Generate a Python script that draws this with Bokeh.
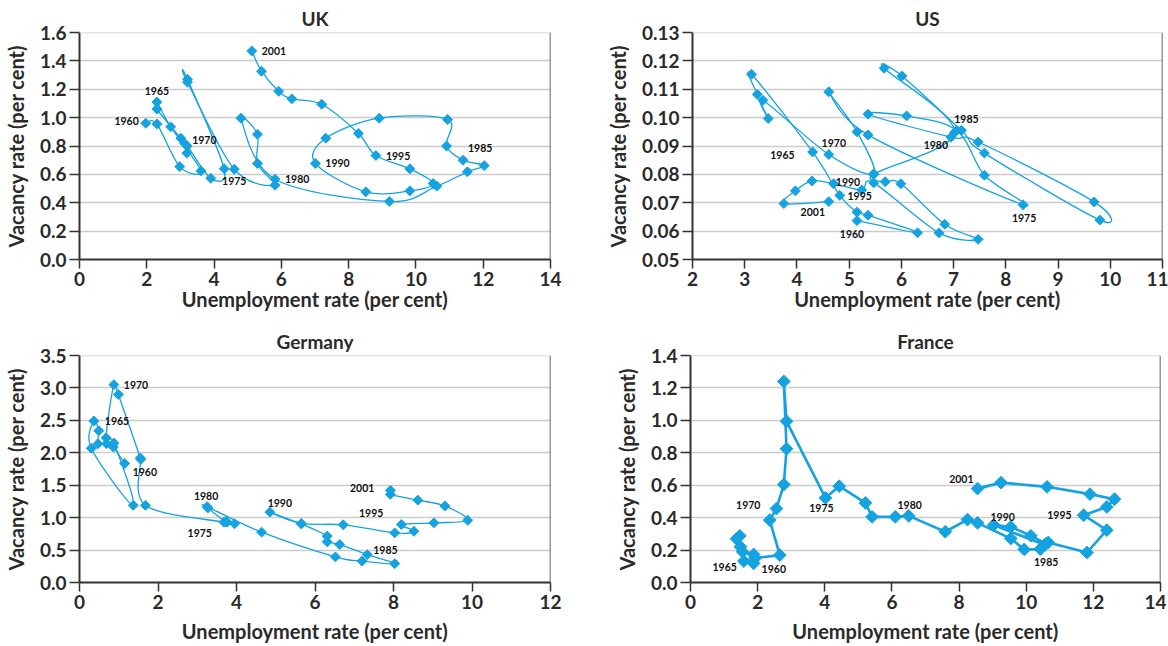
from bokeh.plotting import figure
from bokeh.layouts import row, column
from bokeh.models import Range1d, FixedTicker, NumeralTickFormatter, Span, ColumnDataSource
from bokeh.core.properties import value
from bokeh.embed import file_html
from bokeh.resources import INLINE

# ---------------- data ----------------
YEARS = [1960, 1961, 1962, 1963, 1964, 1965, 1966, 1967, 1968, 1969,
         1970, 1971, 1972, 1973, 1974, 1975, 1976, 1977, 1978, 1979,
         1980, 1981, 1982, 1983, 1984, 1985, 1986, 1987, 1988, 1989,
         1990, 1991, 1992, 1993, 1994, 1995, 1996, 1997, 1998, 1999,
         2000, 2001]
LABEL_YEARS = [1960, 1965, 1970, 1975, 1980, 1985, 1990, 1995, 2001]

UK_U = [1.97, 2.30, 2.98, 3.61, 2.71, 2.30, 2.30, 3.01, 3.12, 3.19,
        3.20, 3.90, 4.30, 3.21, 3.21, 4.60, 5.81, 5.29, 5.29, 4.80,
        5.81, 9.21, 10.62, 11.53, 12.03, 11.40, 10.91, 10.94, 8.91, 7.32,
        7.01, 8.51, 9.82, 10.51, 9.82, 8.81, 8.29, 7.20, 6.31, 5.92,
        5.41, 5.12]
UK_V = [0.96, 0.955, 0.655, 0.625, 0.935, 1.11, 1.06, 0.855, 0.82, 0.75,
        0.80, 0.573, 0.64, 1.27, 1.25, 0.636, 0.524, 0.677, 0.883, 0.996,
        0.566, 0.409, 0.517, 0.618, 0.662, 0.70, 0.80, 0.987, 0.996, 0.855,
        0.677, 0.477, 0.484, 0.536, 0.639, 0.733, 0.888, 1.094, 1.132, 1.186,
        1.327, 1.47]

US_U = [5.15, 6.31, 5.36, 5.15, 4.82, 4.30, 3.13, 3.24, 3.45, 3.35,
        4.61, 5.47, 5.15, 4.61, 5.36, 8.33, 7.59, 7.06, 6.10, 5.36,
        6.95, 7.47, 9.69, 9.80, 7.59, 7.15, 6.01, 5.67, 7.02, 5.47,
        5.69, 5.99, 6.83, 7.47, 6.72, 5.47, 5.24, 4.70, 4.29, 3.97,
        3.75, 4.61]
US_V = [0.0637, 0.0594, 0.0656, 0.0667, 0.0726, 0.0879, 0.1153, 0.1082, 0.0997, 0.1061,
        0.0870, 0.0802, 0.0950, 0.1091, 0.0939, 0.0693, 0.0797, 0.0955, 0.1006, 0.1012,
        0.0931, 0.0914, 0.0703, 0.0639, 0.0875, 0.0955, 0.1147, 0.1174, 0.0948, 0.0800,
        0.0774, 0.0767, 0.0624, 0.0571, 0.0594, 0.0770, 0.0745, 0.0767, 0.0777, 0.0742,
        0.0697, 0.0704]

DE_U = [1.15, 0.86, 0.69, 0.47, 0.49, 0.365, 0.30, 1.37, 0.875, 0.68,
        0.875, 0.99, 1.55, 1.56, 1.68, 3.68, 3.76, 3.95, 3.72, 3.27,
        3.25, 4.64, 6.52, 7.20, 8.03, 7.33, 6.63, 6.31, 6.31, 5.65,
        4.85, 5.65, 6.72, 8.03, 8.52, 8.20, 9.03, 9.89, 9.31, 8.62,
        7.92, 7.92]
DE_V = [1.835, 2.09, 2.14, 2.14, 2.34, 2.49, 2.07, 1.19, 2.15, 2.23,
        3.05, 2.90, 1.92, 1.90, 1.19, 0.93, 0.93, 0.905, 0.94, 1.15,
        1.17, 0.776, 0.395, 0.33, 0.29, 0.43, 0.585, 0.627, 0.715, 0.905,
        1.085, 0.91, 0.89, 0.765, 0.79, 0.895, 0.92, 0.96, 1.18, 1.27,
        1.36, 1.42]

FR_U = [1.88, 1.55, 1.49, 1.37, 1.47, 1.59, 1.88, 1.92, 2.66, 2.36,
        2.56, 2.78, 2.86, 2.78, 2.86, 4.02, 4.43, 5.21, 5.41, 6.10,
        6.50, 7.59, 8.25, 8.55, 9.54, 9.94, 10.42, 10.60, 10.14, 9.54,
        9.03, 10.55, 10.66, 11.81, 12.40, 11.71, 12.40, 12.63, 11.90, 10.62,
        9.25, 8.55]
FR_V = [0.173, 0.19, 0.22, 0.27, 0.288, 0.132, 0.118, 0.15, 0.169, 0.385,
        0.456, 0.604, 0.825, 1.24, 0.994, 0.522, 0.594, 0.491, 0.405, 0.405,
        0.411, 0.313, 0.388, 0.368, 0.271, 0.204, 0.206, 0.240, 0.288, 0.343,
        0.354, 0.232, 0.247, 0.185, 0.323, 0.415, 0.466, 0.514, 0.545, 0.59,
        0.616, 0.579]

# ---------------- styles ----------------
BLUE = "#14a3e0"
FONT = "Lato"
DARK = "#2a2a2a"

# label placement (align, x offset px, y offset px; y positive = down)
UK_LBL = {1960: ("right", -7, -2), 1965: ("center", 0, -11), 1970: ("left", 5, -6),
          1975: ("center", 0, 12), 1980: ("left", 10, 0), 1985: ("left", 5, -12),
          1990: ("left", 10, 0), 1995: ("left", 10, 0), 2001: ("left", 10, 0)}
US_LBL = {1960: ("center", -5, 13), 1965: ("right", -18, 3), 1970: ("center", 5, -12),
          1975: ("center", 1, 13), 1980: ("right", -3, 8), 1985: ("center", 5, -11),
          1990: ("right", -25, 0), 1995: ("center", -14, 13), 2001: ("center", -16, 10)}
DE_LBL = {1960: ("left", 8, 9), 1965: ("left", 11, 0), 1970: ("left", 10, 0),
          1975: ("right", -12, 11), 1980: ("center", -1, -11), 1985: ("left", 6, -5),
          1990: ("center", 10, -9), 1995: ("right", -18, -11), 2001: ("right", -16, -2)}
FR_LBL = {1960: ("left", 8, 15), 1965: ("right", -7, 6), 1970: ("right", -16, -4),
          1975: ("center", -4, 10), 1980: ("center", 1, -11), 1985: ("center", 22, 13),
          1990: ("center", 9, -8), 1995: ("right", -12, 0), 2001: ("right", -4, -10)}


def smooth_segments(u, v):
    """Cubic Bezier segments through the data points (Catmull-Rom tangents)."""
    n = len(u)
    seg = dict(x0=[], y0=[], x1=[], y1=[], cx0=[], cy0=[], cx1=[], cy1=[])
    for i in range(n - 1):
        a = i - 1 if i > 0 else i
        b = i + 2 if i + 2 < n else i + 1
        seg["x0"].append(u[i]); seg["y0"].append(v[i])
        seg["x1"].append(u[i + 1]); seg["y1"].append(v[i + 1])
        seg["cx0"].append(u[i] + (u[i + 1] - u[a]) / 6.0)
        seg["cy0"].append(v[i] + (v[i + 1] - v[a]) / 6.0)
        seg["cx1"].append(u[i + 1] - (u[b] - u[i]) / 6.0)
        seg["cy1"].append(v[i + 1] - (v[b] - v[i]) / 6.0)
    return ColumnDataSource(seg)


def panel(title, u, v, xr, yr, xticks, yticks, yfmt, lbl, geom,
          lw=1.3, msize=7, smooth=True, xlab_standoff=0):
    left, right, top, bottom, fw, fh = geom
    p = figure(frame_width=fw, frame_height=fh,
               min_border_left=left, min_border_right=right,
               min_border_top=top, min_border_bottom=bottom,
               x_range=Range1d(*xr), y_range=Range1d(*yr),
               output_backend="svg", toolbar_location=None,
               background_fill_color="white", border_fill_color="white")
    p.outline_line_color = None
    p.title.text = title
    p.title.align = "center"
    p.title.text_font = FONT
    p.title.text_font_style = "bold"
    p.title.text_font_size = "19px"
    p.title.text_color = DARK
    p.title.standoff = 5

    p.xaxis.ticker = FixedTicker(ticks=xticks)
    p.yaxis.ticker = FixedTicker(ticks=yticks)
    p.xaxis.formatter = NumeralTickFormatter(format="0")
    p.yaxis.formatter = NumeralTickFormatter(format=yfmt)
    p.xaxis.axis_label = "Unemployment rate (per cent)"
    p.yaxis.axis_label = "Vacancy rate (per cent)"
    for ax in (p.xaxis[0], p.yaxis[0]):
        ax.axis_label_text_font = FONT
        ax.axis_label_text_font_style = "bold"
        ax.axis_label_text_font_size = "20px"
        ax.axis_label_text_color = DARK
        ax.major_label_text_font = FONT
        ax.major_label_text_font_style = "bold"
        ax.major_label_text_font_size = "19px"
        ax.major_label_text_color = DARK
        ax.axis_line_color = "#333333"
        ax.axis_line_width = 2
        ax.major_tick_line_color = "#333333"
        ax.major_tick_line_width = 1.5
        ax.major_tick_in = 0
        ax.minor_tick_line_color = None
    p.xaxis.major_tick_out = 9
    p.xaxis.major_label_standoff = 3
    p.xaxis.axis_label_standoff = xlab_standoff
    p.yaxis.major_tick_out = 10
    p.yaxis.major_label_standoff = 3
    p.yaxis.axis_label_standoff = 9

    p.xgrid.grid_line_color = None
    p.ygrid.grid_line_color = "#cccccc"
    p.ygrid.grid_line_width = 1.5
    p.add_layout(Span(location=xr[1], dimension="height",
                      line_color="#333333", line_width=1.5))
    p.add_layout(Span(location=yr[1], dimension="width",
                      line_color="#cccccc", line_width=1.5))

    if smooth:
        p.bezier(x0="x0", y0="y0", x1="x1", y1="y1", cx0="cx0", cy0="cy0",
                 cx1="cx1", cy1="cy1", source=smooth_segments(u, v),
                 line_color=BLUE, line_width=lw)
    else:
        p.line(u, v, line_color=BLUE, line_width=lw)
    p.scatter(u, v, marker="square", angle=0.785398, size=msize,
              fill_color=BLUE, line_color=BLUE)

    lx, ly, lt, la, lxo, lyo = [], [], [], [], [], []
    for yr_ in LABEL_YEARS:
        i = YEARS.index(yr_)
        a, xo, yo = lbl[yr_]
        lx.append(u[i]); ly.append(v[i]); lt.append(str(yr_))
        la.append(a); lxo.append(xo); lyo.append(yo)
    src = ColumnDataSource(dict(x=lx, y=ly, t=lt, a=la, xo=lxo, yo=lyo))
    p.text(x="x", y="y", text="t", source=src, text_align="a",
           x_offset="xo", y_offset="yo", text_baseline="middle",
           text_font=value(FONT), text_font_style="bold",
           text_font_size="10.5px", text_color="#111111")
    return p


p_uk = panel("UK", UK_U, UK_V, (0, 14), (0, 1.6),
             [0, 2, 4, 6, 8, 10, 12, 14],
             [0, 0.2, 0.4, 0.6, 0.8, 1.0, 1.2, 1.4, 1.6], "0.0",
             UK_LBL, (69, 36, 32, 59, 471, 227), xlab_standoff=-2)
p_us = panel("US", US_U, US_V, (2, 11), (0.05, 0.13),
             [2, 3, 4, 5, 6, 7, 8, 9, 10, 11],
             [0.05, 0.06, 0.07, 0.08, 0.09, 0.10, 0.11, 0.12, 0.13], "0.00",
             US_LBL, (106, 6, 32, 59, 470, 227), xlab_standoff=-2)
p_de = panel("Germany", DE_U, DE_V, (0, 12), (0, 3.5),
             [0, 2, 4, 6, 8, 10, 12],
             [0, 0.5, 1.0, 1.5, 2.0, 2.5, 3.0, 3.5], "0.0",
             DE_LBL, (71, 34, 37, 54, 471, 227), xlab_standoff=7)
p_fr = panel("France", FR_U, FR_V, (0, 14), (0, 1.4),
             [0, 2, 4, 6, 8, 10, 12, 14],
             [0, 0.2, 0.4, 0.6, 0.8, 1.0, 1.2, 1.4], "0.0",
             FR_LBL, (106, 6, 37, 54, 470, 227), lw=2.6, msize=9,
             smooth=False, xlab_standoff=7)

layout = column(row(p_uk, p_us), row(p_de, p_fr))
open("out.html", "w").write(file_html(layout, INLINE))
